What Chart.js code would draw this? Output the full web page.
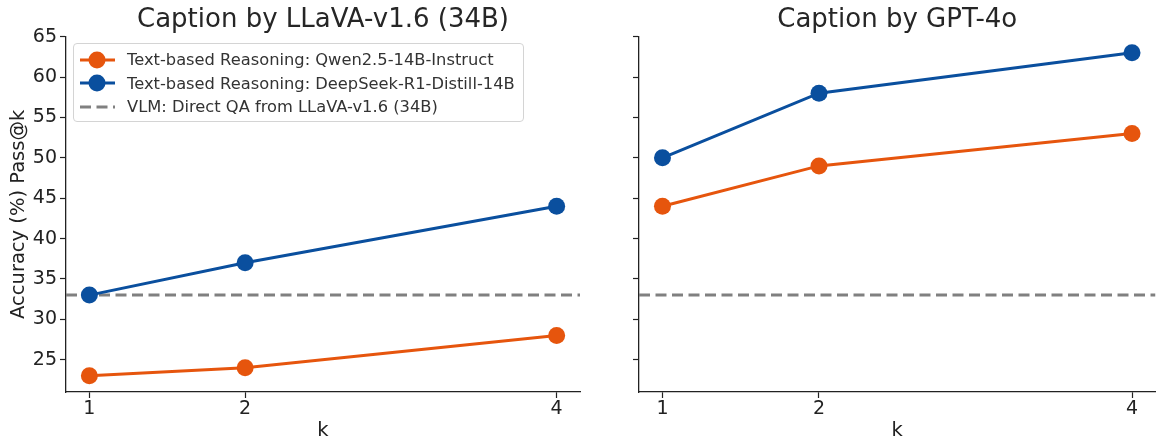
<!DOCTYPE html>
<html>
<head>
<meta charset="utf-8">
<script src="https://cdn.jsdelivr.net/npm/chart.js@4"></script>
<style>
  body { margin: 0; background: #fff; font-family: "DejaVu Sans", sans-serif; overflow: hidden; }
  #wrap { position: relative; width: 1156px; height: 444px; overflow: hidden; }
  .box { position: absolute; top: 0; height: 444px; }
  #legend {
    position: absolute; left: 73px; top: 43px; width: 451px; height: 79px;
    border: 1px solid #d4d4d4; border-radius: 4px; background: rgba(255,255,255,0.85);
    box-sizing: border-box; padding-top: 4px;
  }
  .item { height: 23.5px; display: flex; align-items: center; font-size: 16.3px; color: #333; white-space: nowrap; }
  .item canvas { margin-left: 5px; margin-right: 12px; }
</style>
</head>
<body>
<div id="wrap">
  <div class="box" style="left:0;width:600px"><canvas id="left"></canvas></div>
  <div class="box" style="left:600px;width:564px"><canvas id="right"></canvas></div>
  <div id="legend"></div>
</div>
<script>
const kValues = [1, 2, 4];
const yTicks = [25, 30, 35, 40, 45, 50, 55, 60, 65];

const llavaQwen = [23, 24, 28];
const llavaDeepSeek = [33, 37, 44];
const gptQwen = [44, 49, 53];
const gptDeepSeek = [50, 58, 63];
const directQA = 33;

const seriesNames = [
  "Text-based Reasoning: Qwen2.5-14B-Instruct",
  "Text-based Reasoning: DeepSeek-R1-Distill-14B",
  "VLM: Direct QA from LLaVA-v1.6 (34B)",
];

const ORANGE = "#E6550D";
const BLUE = "#0A4F9E";
const GRAY = "#808080";
const FONT = "'DejaVu Sans', sans-serif";
const DASH = [11, 5.5];

const xMin = 0.85, xMax = 4.15, yMin = 21, yMax = 65;

function lineSet(label, values, color) {
  return {
    label: label,
    data: kValues.map((k, i) => ({ x: k, y: values[i] })),
    borderColor: color,
    backgroundColor: color,
    borderWidth: 3,
    pointRadius: 8.5,
    pointHoverRadius: 8.5,
    pointBorderWidth: 0,
  };
}

function makeChart(id, title, qwen, deepseek, opts) {
  return new Chart(document.getElementById(id), {
    type: "line",
    data: {
      datasets: [
        {
          label: seriesNames[2],
          data: [{ x: xMin, y: directQA }, { x: xMax, y: directQA }],
          borderColor: GRAY,
          borderWidth: 3,
          borderDash: DASH,
          pointRadius: 0,
          order: 3,
        },
        Object.assign(lineSet(seriesNames[0], qwen, ORANGE), { order: 2 }),
        Object.assign(lineSet(seriesNames[1], deepseek, BLUE), { order: 1 }),
      ],
    },
    options: {
      responsive: true,
      maintainAspectRatio: false,
      animation: false,
      layout: { padding: { left: 0, right: opts.padRight, top: 0, bottom: 0 } },
      plugins: {
        legend: { display: false },
        tooltip: { enabled: false },
        title: {
          display: true,
          text: title,
          fullSize: false,
          color: "#262626",
          font: { family: FONT, size: 26, weight: "normal" },
          padding: { top: 5, bottom: 0.5 },
        },
      },
      scales: {
        x: {
          type: "linear",
          min: xMin,
          max: xMax,
          afterBuildTicks: (s) => { s.ticks = kValues.map((v) => ({ value: v })); },
          afterFit: (s) => { s.height = 52; },
          ticks: { color: "#222", font: { family: FONT, size: 19 }, padding: 0 },
          grid: { drawOnChartArea: false, tickLength: 6, color: "#222", tickWidth: 1.2 },
          border: { color: "#222", width: 1.3 },
          title: {
            display: true, text: "k", color: "#222",
            font: { family: FONT, size: 19.5 }, padding: { top: 0, bottom: 1 },
          },
        },
        y: {
          min: yMin,
          max: yMax,
          afterBuildTicks: (s) => { s.ticks = yTicks.map((v) => ({ value: v })); },
          afterFit: (s) => { s.width = opts.yWidth; },
          ticks: {
            color: "#222", font: { family: FONT, size: 19 }, padding: 3,
            callback: (v) => (opts.showY ? v : ""),
          },
          grid: { drawOnChartArea: false, tickLength: 6, color: "#222", tickWidth: 1.2 },
          border: { color: "#222", width: 1.3 },
          title: {
            display: opts.showY, text: "Accuracy (%) Pass@k", color: "#222",
            font: { family: FONT, size: 19.5 }, padding: { top: 7, bottom: 0 },
          },
        },
      },
    },
  });
}

makeChart("left", "Caption by LLaVA-v1.6 (34B)", llavaQwen, llavaDeepSeek,
  { padRight: 20, yWidth: 66, showY: true });
makeChart("right", "Caption by GPT-4o", gptQwen, gptDeepSeek,
  { padRight: 0, yWidth: 39, showY: false });

// legend (only in the left panel)
const legendItems = [
  { name: seriesNames[0], color: ORANGE, marker: true },
  { name: seriesNames[1], color: BLUE, marker: true },
  { name: seriesNames[2], color: GRAY, marker: false },
];
const legend = document.getElementById("legend");
legendItems.forEach((it) => {
  const row = document.createElement("div");
  row.className = "item";
  const c = document.createElement("canvas");
  c.width = 36; c.height = 20;
  const ctx = c.getContext("2d");
  ctx.strokeStyle = it.color;
  ctx.lineWidth = 3;
  if (!it.marker) ctx.setLineDash(DASH);
  ctx.beginPath(); ctx.moveTo(1, 10); ctx.lineTo(36, 10); ctx.stroke();
  if (it.marker) {
    ctx.fillStyle = it.color;
    ctx.beginPath(); ctx.arc(18, 10, 8.5, 0, Math.PI * 2); ctx.fill();
  }
  row.appendChild(c);
  const t = document.createElement("span");
  t.textContent = it.name;
  row.appendChild(t);
  legend.appendChild(row);
});
</script>
</body>
</html>
